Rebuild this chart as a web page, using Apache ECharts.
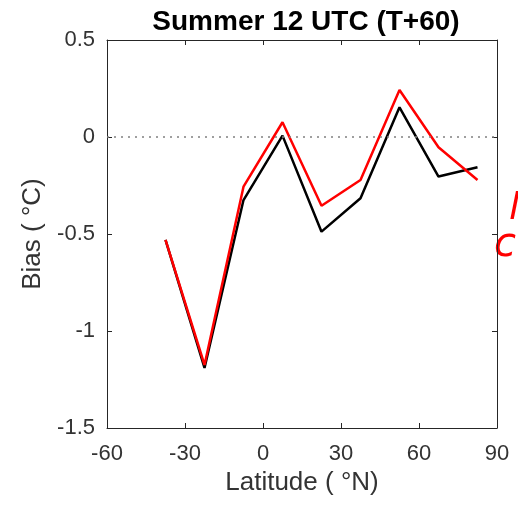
<!DOCTYPE html>
<html>
<head>
<meta charset="utf-8">
<script src="https://cdn.jsdelivr.net/npm/echarts@6/dist/echarts.min.js"></script>
<style>
  html, body { margin: 0; padding: 0; background: #fff; }
  #chart { width: 518px; height: 505px; }
</style>
</head>
<body>
<div id="chart"></div>
<script>
// latitude band centres
const latitudes = [-37.5, -22.5, -7.5, 7.5, 22.5, 37.5, 52.5, 67.5, 82.5];
// bias values
const blackBias = [-0.53, -1.19, -0.325, 0.007, -0.488, -0.316, 0.153, -0.204, -0.156];
const redBias = [-0.53, -1.175, -0.256, 0.076, -0.354, -0.222, 0.242, -0.053, -0.222];

const xTicks = [-60, -30, 0, 30, 60, 90];
const yTicks = [-1.5, -1, -0.5, 0, 0.5];

const chart = echarts.init(document.getElementById('chart'));

const pair = (vals) => latitudes.map((lat, i) => [lat, vals[i]]);

const axisText = { color: '#333', fontSize: 22, fontFamily: 'Liberation Sans' };
const boxLine = { show: true, onZero: false, lineStyle: { color: '#262626', width: 1 } };
const inTicks = { show: true, inside: true, length: 5, lineStyle: { color: '#262626' } };

chart.setOption({
  animation: false,
  title: {
    text: 'Summer 12 UTC (T+60)',
    left: 301,
    textAlign: 'center',
    top: 3,
    textStyle: { fontSize: 28, fontWeight: 'bold', color: '#000', fontFamily: 'Liberation Sans' },
  },
  grid: { left: 107, right: 21, top: 40, bottom: 77 },
  xAxis: [{
    type: 'value',
    min: -60,
    max: 90,
    interval: 30,
    name: 'Latitude ( \u00b0N)',
    nameLocation: 'middle',
    nameGap: 40,
    nameTextStyle: { color: '#333', fontSize: 26, fontFamily: 'Liberation Sans' },
    axisLine: boxLine,
    axisTick: inTicks,
    axisLabel: { ...axisText, margin: 15, formatter: v => (xTicks.includes(v) ? String(v) : '') },
    splitLine: { show: false },
  }, {
    type: 'value',
    position: 'top',
    min: -60,
    max: 90,
    interval: 30,
    axisLine: boxLine,
    axisTick: inTicks,
    axisLabel: { show: false },
    splitLine: { show: false },
  }],
  yAxis: [{
    type: 'value',
    min: -1.5,
    max: 0.5,
    interval: 0.5,
    name: 'Bias ( \u00b0C)',
    nameLocation: 'middle',
    nameGap: 56,
    nameTextStyle: { color: '#333', fontSize: 26, fontFamily: 'Liberation Sans' },
    axisLine: boxLine,
    axisTick: inTicks,
    axisLabel: { ...axisText, margin: 12, formatter: v => (yTicks.includes(v) ? String(v) : '') },
    splitLine: { show: false },
  }, {
    type: 'value',
    position: 'right',
    min: -1.5,
    max: 0.5,
    interval: 0.5,
    axisLine: boxLine,
    axisTick: inTicks,
    axisLabel: { show: false },
    splitLine: { show: false },
  }],
  series: [
    {
      type: 'line',
      data: pair(blackBias),
      symbol: 'none',
      lineStyle: { color: '#000', width: 2.5 },
      z: 2,
      markLine: {
        silent: true,
        symbol: 'none',
        label: { show: false },
        lineStyle: { color: '#808080', type: [2, 5], width: 1.5 },
        data: [{ yAxis: 0 }],
      },
    },
    {
      type: 'line',
      data: pair(redBias),
      symbol: 'none',
      lineStyle: { color: '#ff0000', width: 2.5 },
      z: 3,
    },
  ],
  graphic: [
    { type: 'text', left: 509, top: 190, style: { text: 'l', fill: '#ff0000', fontSize: 38, fontStyle: 'italic', fontFamily: 'DejaVu Sans' } },
    { type: 'text', left: 494, top: 226, style: { text: 'c', fill: '#ff0000', fontSize: 40, fontStyle: 'italic', fontFamily: 'DejaVu Sans' } },
  ],
});
</script>
</body>
</html>
